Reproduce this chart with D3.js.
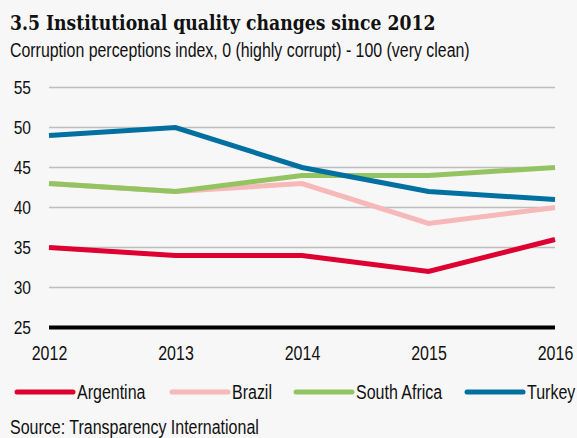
<!DOCTYPE html>
<html>
<head>
<meta charset="utf-8">
<script src="https://cdn.jsdelivr.net/npm/d3@7"></script>
<style>
  body { margin: 0; background: #f7f7f7; }
  svg { display: block; background: #f7f7f7; }
  .narrow { font-family: "Liberation Sans", Arial, sans-serif; fill: #111; }
  .title { font-family: "DejaVu Serif", "Liberation Serif", serif; font-weight: bold; fill: #111; }
</style>
</head>
<body>
<div id="chart"></div>
<script>
const years = [2012, 2013, 2014, 2015, 2016];
const yTicks = [25, 30, 35, 40, 45, 50, 55];
const seriesNames = ["Argentina", "Brazil", "South Africa", "Turkey"];
const seriesColors = ["#dd0031", "#f6b8b8", "#94c462", "#0070a0"];
const argentina = [35, 34, 34, 32, 36];
const brazil = [43, 42, 43, 38, 40];
const southAfrica = [43, 42, 44, 44, 45];
const turkey = [49, 50, 45, 42, 41];
const seriesValues = [argentina, brazil, southAfrica, turkey];

const width = 577;
const height = 438;
const squeeze = 0.82; // narrow look of the original sans font

const svg = d3.select("#chart")
    .append("svg")
    .attr("width", width)
    .attr("height", height);

// Title and subtitle
svg.append("text")
    .attr("class", "title")
    .attr("transform", "translate(10,30) scale(0.84,1)")
    .style("font-size", "20.5px")
    .text("3.5 Institutional quality changes since 2012");

svg.append("text")
    .attr("class", "narrow")
    .attr("transform", `translate(10,57) scale(${squeeze},1)`)
    .style("font-size", "19.4px")
    .text("Corruption perceptions index, 0 (highly corrupt) - 100 (very clean)");

// Scales
const x = d3.scalePoint()
    .domain(years)
    .range([49, 555]);

const y = d3.scaleLinear()
    .domain([25, 55])
    .range([327.5, 87.5]);

// Grid lines
svg.append("g")
    .selectAll("line")
    .data(yTicks.filter(d => d !== 25))
    .enter()
    .append("line")
    .attr("x1", 49)
    .attr("x2", 555)
    .attr("y1", d => y(d))
    .attr("y2", d => y(d))
    .attr("stroke", "#bdbdbd")
    .attr("stroke-width", 1.5);

// Y axis labels
const yAxis = svg.append("g")
    .attr("transform", "translate(31,0)")
    .call(d3.axisLeft(y).tickValues(yTicks).tickSize(0).tickPadding(0));
yAxis.select(".domain").remove();
yAxis.selectAll("text")
    .attr("fill", "#111")
    .attr("transform", `scale(${squeeze},1)`)
    .style("font-size", "19px")
    .style("font-family", "'Liberation Sans', Arial, sans-serif");

// X axis labels
const xAxis = svg.append("g")
    .attr("transform", "translate(0,345)")
    .call(d3.axisBottom(x).tickSize(0).tickPadding(0).tickFormat(d3.format("d")));
xAxis.select(".domain").remove();
xAxis.selectAll("text")
    .attr("fill", "#111")
    .attr("dy", "0.75em")
    .attr("transform", `scale(${squeeze},1)`)
    .style("font-size", "19.5px")
    .style("font-family", "'Liberation Sans', Arial, sans-serif");

// Base line at 25
svg.append("line")
    .attr("x1", 49)
    .attr("x2", 555)
    .attr("y1", y(25))
    .attr("y2", y(25))
    .attr("stroke", "#000")
    .attr("stroke-width", 4);

// Lines
const line = d3.line()
    .x((d, i) => x(years[i]))
    .y(d => y(d));

svg.append("g")
    .selectAll("path")
    .data(seriesValues)
    .enter()
    .append("path")
    .attr("d", d => line(d))
    .attr("fill", "none")
    .attr("stroke", (d, i) => seriesColors[i])
    .attr("stroke-width", 5);

// Legend
const legendX = [17, 172, 296, 467];
const legend = svg.append("g")
    .selectAll("g")
    .data(seriesNames)
    .enter()
    .append("g")
    .attr("transform", (d, i) => `translate(${legendX[i]},392)`);

legend.append("line")
    .attr("x1", 0)
    .attr("x2", 56)
    .attr("stroke", (d, i) => seriesColors[i])
    .attr("stroke-width", 5)
    .attr("stroke-linecap", "round");

legend.append("text")
    .attr("class", "narrow")
    .attr("transform", `translate(60,7) scale(${squeeze},1)`)
    .style("font-size", "19.5px")
    .text(d => d);

// Source
svg.append("text")
    .attr("class", "narrow")
    .attr("transform", `translate(10,433.5) scale(${squeeze},1)`)
    .style("font-size", "19.5px")
    .text("Source: Transparency International");
</script>
</body>
</html>
